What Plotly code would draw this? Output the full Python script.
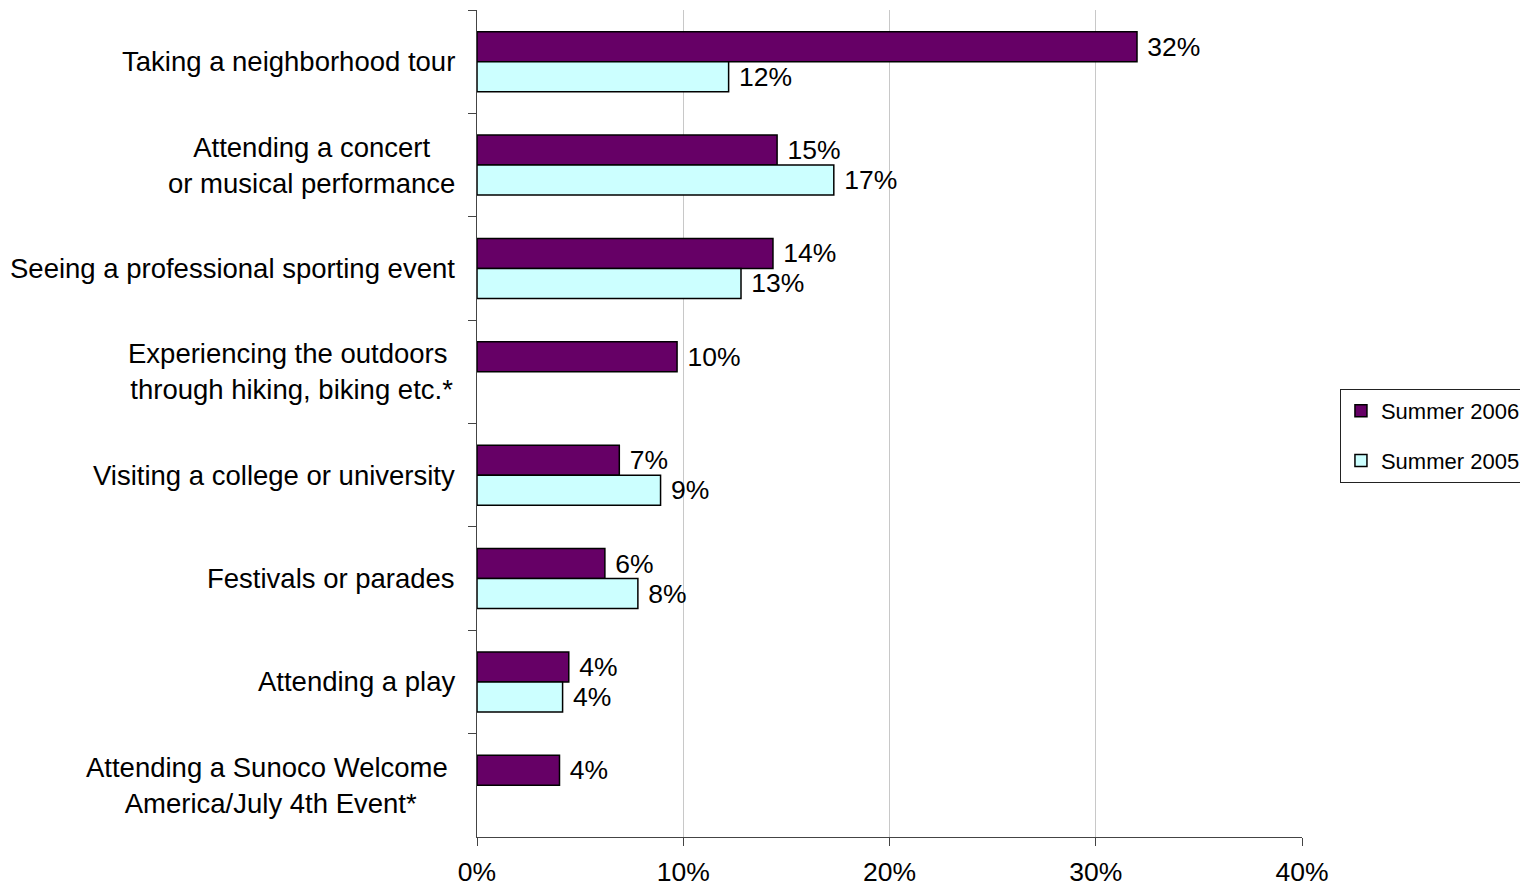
import plotly.graph_objects as go

# Activity categories, top to bottom
categories = [
    "Taking a neighborhood tour",
    "Attending a concert<br>or musical performance",
    "Seeing a professional sporting event",
    "Experiencing the outdoors <br>through hiking, biking etc.*",
    "Visiting a college or university",
    "Festivals or parades",
    "Attending a play",
    "Attending a Sunoco Welcome <br>America/July 4th Event*",
]

# Share of respondents (%) per season; None where not asked
summer_2006 = [32.0, 14.55, 14.35, 9.7, 6.9, 6.2, 4.45, 4.0]
summer_2005 = [12.2, 17.3, 12.8, None, 8.9, 7.8, 4.15, None]

x_ticks = [0, 10, 20, 30, 40]

FONT = "Liberation Sans, Arial, sans-serif"

fig = go.Figure()
for name, vals, color in [
    ("Summer 2006", summer_2006, "#660066"),
    ("Summer 2005", summer_2005, "#CCFFFF"),
]:
    fig.add_trace(go.Bar(
        name=name,
        y=categories,
        x=vals,
        orientation="h",
        marker=dict(color=color, line=dict(color="black", width=1.5)),
        texttemplate="\u00a0%{x:.0f}%",
        textposition="outside",
        constraintext="none",
        cliponaxis=False,
        textfont=dict(family=FONT, size=26.5, color="black"),
        legendgroup=name,
    ))

# Category labels, centred line by line and right-aligned against the axis
for cat in categories:
    fig.add_annotation(
        xref="paper", yref="y", x=0, y=cat,
        text=cat, showarrow=False,
        xanchor="right", yanchor="middle", align="center",
        xshift=-20,
        font=dict(family=FONT, size=27.5, color="black"),
    )

fig.update_layout(
    width=1520, height=887,
    margin=dict(l=477, r=218, t=10, b=50, autoexpand=False),
    paper_bgcolor="white", plot_bgcolor="white",
    barmode="group", bargap=0.42, bargroupgap=0,
    font=dict(family=FONT, size=26.5, color="black"),
    showlegend=True,
    legend=dict(
        x=1.046, y=0.5417, xanchor="left", yanchor="top",
        bgcolor="white", bordercolor="#222", borderwidth=1,
        font=dict(family=FONT, size=22, color="black"),
        traceorder="grouped", tracegroupgap=18,
    ),
    xaxis=dict(
        range=[0, 40], tickvals=x_ticks,
        ticktext=[f"{v}%" for v in x_ticks],
        showgrid=True, gridcolor="#c8c8c8", gridwidth=1,
        zeroline=False,
        showline=True, linecolor="#444", linewidth=1,
        ticks="outside", ticklen=8, tickcolor="#444",
        ticklabelstandoff=3,
        tickfont=dict(family=FONT, size=26.5, color="black"),
    ),
    yaxis=dict(
        type="category", categoryorder="array", categoryarray=categories,
        autorange="reversed",
        showgrid=False, zeroline=False,
        showline=True, linecolor="#444", linewidth=1,
        ticks="outside", ticklen=8, tickcolor="#444",
        tickson="boundaries", showticklabels=False,
    ),
)

fig.write_html("out.html")
